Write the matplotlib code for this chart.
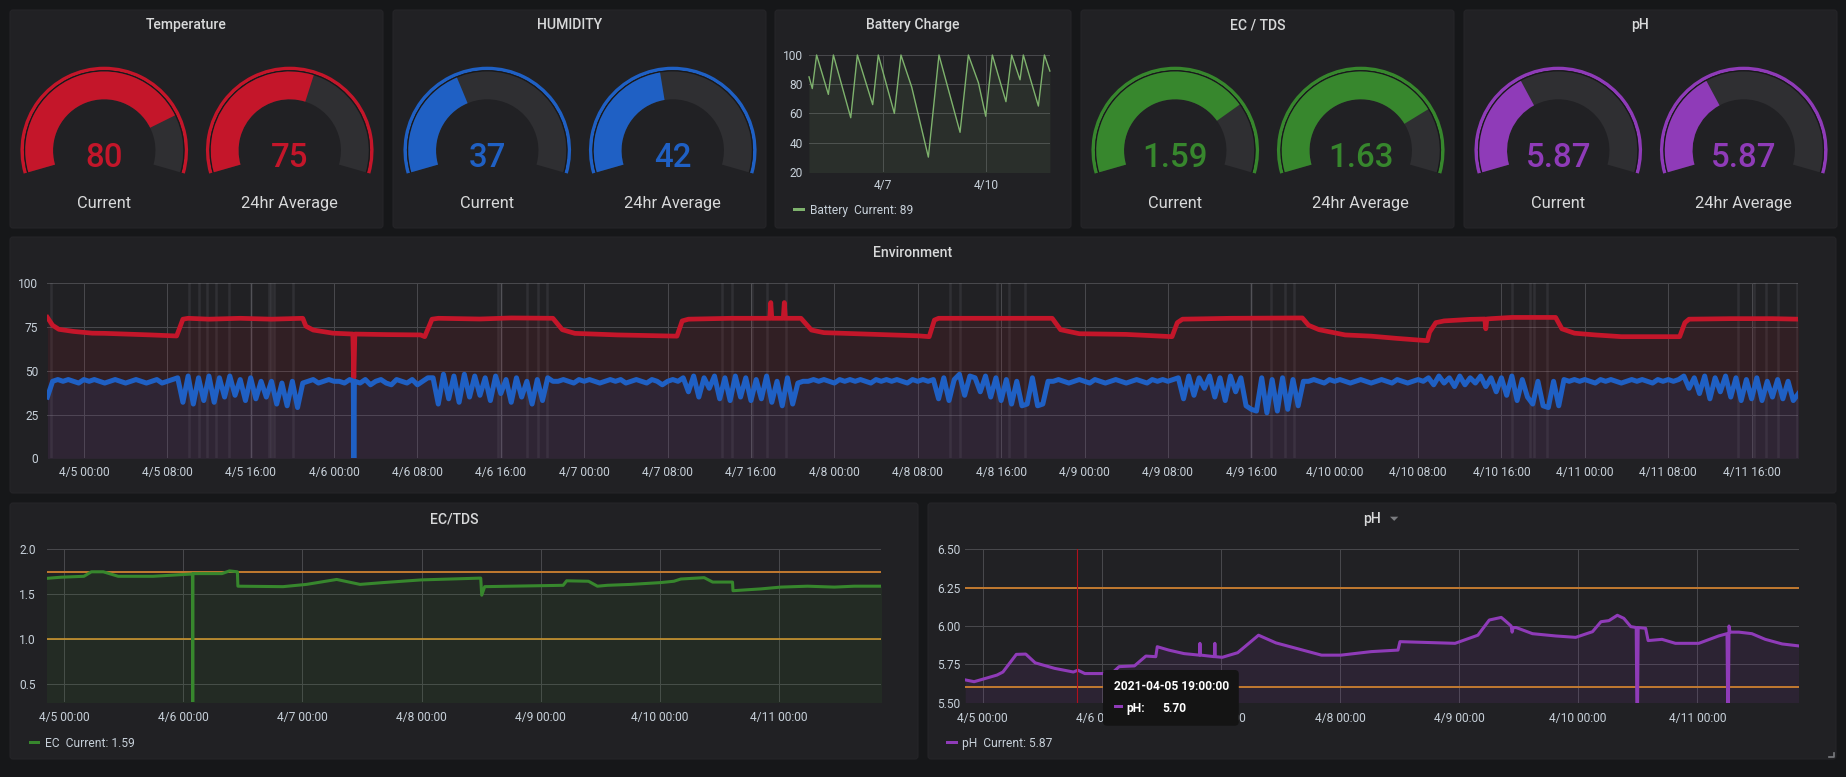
import datetime as dt
import numpy as np
import matplotlib
matplotlib.use("Agg")
import matplotlib.pyplot as plt
import matplotlib.dates as mdates
from matplotlib.patches import Wedge, FancyBboxPatch, Polygon, Rectangle
from matplotlib.ticker import FixedLocator, FuncFormatter

plt.rcParams['font.family'] = ['Roboto', 'DejaVu Sans']

W, H = 1846, 777

# ---------------- colours ----------------
BG = '#161719'; PANEL = '#212124'; GAUGE_BG = '#2f2f32'
GRID = '#48484c'; TICK = '#c7d0d9'; TITLE = '#d8d9da'
RED = '#C4162A'; BLUE = '#1F60C4'; GREEN = '#37872D'; PURPLE = '#8F3BB8'; BATT = '#7EB26D'
ORANGE = '#C27A30'; ORANGE2 = '#C9942E'

# ---------------- data ----------------
gauge_titles = ["Temperature", "HUMIDITY", "EC / TDS", "pH"]
gauge_labels = ["Current", "24hr Average"]
temp_gauge_values = [80, 75]
hum_gauge_values = [37, 42]
ec_gauge_values = [1.59, 1.63]
ph_gauge_values = [5.87, 5.87]
temp_gauge_ranges = [(0, 100), (40, 100)]
hum_gauge_ranges = [(0, 94), (0, 92)]
ec_gauge_ranges = [(0, 2.1), (0, 2.1)]
ph_gauge_ranges = [(0, 16), (0, 16)]

# hours relative to 2021-04-05 00:00
battery_hours = [-3.5, -1.2, 1.8, 10.0, 13.5, 25.6, 30.2, 40.9, 44.8, 56.0, 60.6, 68.1, 79.7,
                 87.1, 101.8, 107.6, 114.6, 119.7, 124.3, 133.8, 137.8, 143.6, 145.9, 156.4, 160.6, 164.4]
battery_values = [85, 77, 100, 73, 100, 57, 100, 66, 100, 60, 100, 78, 30,
                  100, 47, 100, 81, 58, 100, 68, 100, 83, 100, 65, 100, 89]
battery_current = 89

temp_hours = [-3.5, -3.0, -2.4, -1.0, 0.8, 2.0, 6.4, 8.9, 9.5, 10.0, 12.0, 15.0, 18.0, 21.0, 21.3,
              22.0, 23.9, 25.8, 25.9, 26.0, 29.0, 32.3, 32.7, 33.4, 34.0, 38.0, 41.0, 45.0, 45.9,
              47.1, 51.2, 56.9, 57.4, 58.0, 62.0, 65.8, 65.9, 66.0, 67.1, 67.2, 67.3, 68.8, 69.8,
              71.0, 75.0, 80.0, 81.1, 81.6, 82.0, 87.0, 92.9, 93.7, 95.5, 100.0, 104.4, 104.9,
              105.4, 110.0, 116.9, 117.5, 118.5, 121.0, 123.5, 126.0, 128.9, 129.1, 129.7, 130.5,
              133.0, 134.4, 134.5, 134.6, 135.0, 137.0, 141.2, 141.8, 143.0, 145.0, 147.5, 153.1,
              153.6, 154.0, 158.0, 162.0, 164.5]
temp_values = [80.5, 76, 73.7, 72.5, 71.5, 71.4, 70.5, 69.9, 79.5, 80, 79.5, 80, 79.5, 80, 75.5,
               73.3, 71.5, 71, 46, 71, 70.7, 70.5, 69.5, 79.5, 80, 79.6, 80.2, 80, 73.5,
               71.4, 70.5, 69.8, 78.5, 79.5, 80, 80, 89, 80, 80, 89, 80, 80, 73.3,
               71.8, 71, 70, 69.5, 79, 80, 80, 80, 73.5, 71.2, 70.8, 69.5, 77.5,
               79.5, 80, 80.2, 76, 73.5, 70.5, 69.8, 68.5, 67.2, 72, 77.5, 78.5,
               79.4, 79.6, 74, 79.6, 79.8, 80.5, 80.5, 74, 71.5, 70.5, 69.5, 69.5,
               77.5, 79.5, 79.8, 79.8, 79.5]

# humidity readings every 30 min starting 2021-04-04 20:30
hum_start_hour = -3.5
hum_step_hours = 0.5
hum_values = [
    35, 44, 45, 44, 45, 44, 43, 45, 44, 45, 44, 43, 44, 45, 44, 43, 44, 45, 44, 43, 44, 45, 43, 44, 45,
    46, 32, 47, 31, 46, 33, 47, 32, 46, 35, 47, 36, 45, 33, 46, 34, 44, 35, 44, 31, 43, 30, 44, 29, 43,
    44, 45, 43, 44, 45, 44, 44, 43, 45, 44, 43, 45, 42, 44, 45, 43, 42, 45, 44, 43, 45, 42, 44, 46,
    46, 31, 48, 34, 47, 32, 48, 35, 47, 36, 46, 33, 47, 37, 45, 32, 46, 35, 44, 31, 45, 33, 46, 44,
    44, 45, 44, 43, 45, 44, 45, 44, 43, 44, 45, 44, 45, 43, 44, 45, 44, 43, 45, 44, 42, 44, 45, 44,
    46, 38, 47, 35, 46, 40, 47, 34, 46, 33, 47, 35, 46, 33, 45, 34, 47, 32, 44, 30, 46, 31, 43, 44,
    44, 45, 44, 45, 44, 43, 45, 44, 45, 44, 45, 44, 43, 45, 44, 45, 44, 45, 44, 43, 45, 44, 45, 44, 45,
    34, 46, 33, 45, 48, 36, 47, 46, 38, 47, 35, 46, 33, 45, 31, 44, 30, 31, 46, 30, 31, 44,
    44, 45, 44, 43, 44, 45, 44, 43, 45, 44, 43, 44, 45, 44, 43, 44, 45, 44, 43, 45, 44, 45, 44, 45,
    46, 34, 47, 36, 46, 40, 47, 35, 46, 33, 47, 38, 46, 30, 28, 27, 46, 26, 45, 27, 46, 28, 45, 30, 44,
    44, 45, 44, 43, 45, 44, 45, 44, 43, 44, 45, 44, 43, 44, 45, 44, 43, 45, 44, 43, 44, 45, 44,
    46, 42, 47, 43, 46, 41, 47, 42, 46, 43, 47, 41, 46,
    38, 46, 36, 47, 33, 45, 35, 31, 44, 30, 29, 44, 30,
    45, 44, 45, 44, 45, 44, 43, 45, 44, 45, 44, 43, 44, 45, 44, 45, 44, 43, 45, 44, 45, 44, 45,
    47, 40, 46, 37, 47, 34, 46, 38, 47, 35, 46, 33, 45, 34, 46, 33, 44, 35, 45, 34, 44, 33, 37,
]
hum_spike_hours = [25.85, 25.9, 25.95]
hum_spike_values = [44, 0, 44]

env_streak_hours = [-3.15, 10.1, 11.0, 11.8, 12.7, 13.9, 16.0, 17.8, 18.0, 18.2, 20.1, 39.7, 40.0,
                    42.5, 43.6, 44.4, 61.2, 62.2, 64.1, 65.5, 67.4, 83.1, 84.1, 87.6, 88.8, 90.3,
                    112.0, 113.9, 115.2, 116.1, 137.0, 138.7, 139.1, 140.4, 158.7, 160.2, 161.4,
                    162.5, 164.4]

ec_hours = [-3.55, -0.6, 4.0, 5.5, 7.9, 10.9, 17.9, 25.6, 25.85, 25.9, 25.95, 26.4, 31.8, 33.3,
            34.9, 35.0, 44.1, 48.8, 54.9, 59.6, 64.2, 71.9, 83.9, 84.1, 84.7, 100.5, 101.2, 105.6,
            107.4, 109.4, 114.1, 120.1, 122.8, 124.2, 128.9, 130.6, 134.6, 134.7, 140.3, 144.3,
            149.7, 155.1, 159.1, 164.7]
ec_values = [1.677, 1.69, 1.70, 1.75, 1.75, 1.70, 1.70, 1.725, 1.725, 0.0, 1.73, 1.73, 1.73, 1.76,
             1.75, 1.59, 1.585, 1.61, 1.665, 1.61, 1.63, 1.66, 1.68, 1.49, 1.585, 1.60, 1.65, 1.645,
             1.59, 1.60, 1.61, 1.63, 1.645, 1.67, 1.685, 1.636, 1.636, 1.54, 1.56, 1.58,
             1.59, 1.58, 1.59, 1.59]
ec_current = 1.59
ec_thresholds = [1.75, 1.0]

ph_hours = [-3.4, -1.7, 2.9, 4.1, 6.8, 8.7, 10.6, 14.5, 18.3, 19.2, 20.6, 26.0, 27.5, 30.6, 32.9,
            34.9, 35.2, 37.5, 40.6, 43.7, 43.8, 43.9, 44.0, 46.7, 46.8, 46.9, 48.3, 51.4, 55.6,
            59.1, 64.5, 68.3, 72.2, 78.3, 83.7, 84.1, 95.2, 99.8, 102.1, 104.5, 105.1, 106.5,
            106.7, 106.9, 107.5, 110.8, 115.5, 119.5, 122.9, 124.6, 126.2, 127.9, 129.2, 130.6,
            131.7, 131.9, 132.1, 133.6, 134.1, 136.9, 139.6, 144.3, 148.3, 150.0, 150.2, 150.4,
            150.6, 152.4, 155.0, 157.7, 161.1, 164.5]
ph_values = [5.648, 5.637, 5.68, 5.70, 5.815, 5.817, 5.76, 5.724, 5.70, 5.712, 5.69, 5.69, 5.735,
             5.74, 5.804, 5.80, 5.865, 5.843, 5.82, 5.81, 5.887, 5.81, 5.81, 5.80, 5.887, 5.80,
             5.796, 5.826, 5.94, 5.89, 5.843, 5.81, 5.81, 5.833, 5.843, 5.898, 5.887, 5.94, 6.039,
             6.056, 6.04, 6.0, 5.96, 5.99, 5.99, 5.95, 5.935, 5.926, 5.963, 6.028, 6.035, 6.07,
             6.05, 5.996, 5.99, 5.2, 5.99, 5.985, 5.905, 5.913, 5.887, 5.887, 5.935, 5.95, 5.2,
             6.0, 5.96, 5.96, 5.95, 5.913, 5.883, 5.87]
ph_current = 5.87
ph_thresholds = [6.25, 5.6]

tooltip_hour = 19.0
tooltip_time = "2021-04-05 19:00:00"
tooltip_value = 5.70

# ---------------- helpers ----------------
BASE = dt.datetime(2021, 4, 5)
T0 = BASE + dt.timedelta(hours=-3.5)
T1 = BASE + dt.timedelta(hours=164.5)


def to_dates(hours):
    return [BASE + dt.timedelta(hours=float(h)) for h in hours]


def pt(px):
    return px * 0.72


fig = plt.figure(figsize=(W / 100, H / 100), dpi=100, facecolor=BG)
bg = fig.add_axes([0, 0, 1, 1])
bg.set_xlim(0, W); bg.set_ylim(0, H); bg.axis('off')


def px_axes(x0, y0, x1, y1):
    a = fig.add_axes([x0 / W, 1 - y1 / H, (x1 - x0) / W, (y1 - y0) / H])
    a.set_facecolor('none')
    for s in a.spines.values():
        s.set_visible(False)
    a.grid(True, color=GRID, lw=0.75)
    a.set_axisbelow(True)
    a.tick_params(length=0, labelcolor=TICK, labelsize=pt(12))
    return a


def panel(x0, y0, x1, y1):
    bg.add_patch(FancyBboxPatch((x0, H - y1), x1 - x0, y1 - y0,
                                boxstyle='round,pad=0,rounding_size=3',
                                fc=PANEL, ec='#252528', lw=0.8))


def title(x0, x1, ybase, text):
    bg.text((x0 + x1) / 2 - 10, H - ybase, text, ha='center', va='baseline',
            fontsize=pt(14), fontweight='medium', color=TITLE)


def gauge(cx, value, rng, color, text, label):
    cy = H - 150.5
    a0, a1 = -16, 196
    bg.add_patch(Wedge((cx, cy), 83.8, a0, a1, width=3.5, color=color, lw=0))
    bg.add_patch(Wedge((cx, cy), 80.3, a0, a1, width=1.4, color='#18181a', lw=0))
    bg.add_patch(Wedge((cx, cy), 79.0, a0, a1, width=27.8, color=GAUGE_BG, lw=0))
    frac = min(max((value - rng[0]) / (rng[1] - rng[0]), 0), 1)
    bg.add_patch(Wedge((cx, cy), 79.0, a1 - frac * (a1 - a0), a1, width=27.8, color=color, lw=0))
    bg.text(cx, H - 166.7, text, ha='center', va='baseline', fontsize=pt(33),
            fontweight='medium', color=color)
    bg.text(cx, H - 208.3, label, ha='center', va='baseline', fontsize=pt(16.4), color=TITLE)


def legend(x, ybase, color, text):
    bg.add_patch(Rectangle((x, H - ybase + 2.5), 11.5, 3.5, color=color, lw=0))
    bg.text(x + 16.5, H - ybase, text, ha='left', va='baseline', fontsize=pt(12), color=TICK)


def fmt_dt(x, pos):
    d = mdates.num2date(x)
    return f"{d.month}/{d.day} {d:%H:%M}"


def fmt_day(x, pos):
    d = mdates.num2date(x)
    return f"{d.month}/{d.day}"


# ---------------- panels ----------------
top_panels = [(10, 10, 383, 228), (393, 10, 766, 228), (775, 10, 1071, 228),
              (1081, 10, 1454, 228), (1464, 10, 1837, 228)]
env_panel = (10, 237, 1836, 493)
ec_panel = (10, 503, 918, 759)
ph_panel = (928, 503, 1836, 759)
for p in top_panels + [env_panel, ec_panel, ph_panel]:
    panel(*p)

gauge_specs = [
    (top_panels[0], temp_gauge_values, temp_gauge_ranges, RED, "{:.0f}"),
    (top_panels[1], hum_gauge_values, hum_gauge_ranges, BLUE, "{:.0f}"),
    (top_panels[3], ec_gauge_values, ec_gauge_ranges, GREEN, "{:.2f}"),
    (top_panels[4], ph_gauge_values, ph_gauge_ranges, PURPLE, "{:.2f}"),
]
for (p, vals, rngs, col, fmt), ttl in zip(gauge_specs, gauge_titles):
    x0, y0, x1, y1 = p
    w = x1 - x0
    title(x0, x1, 29.3, ttl)
    for k, (v, r, lab) in enumerate(zip(vals, rngs, gauge_labels)):
        cx = x0 + w * (0.25 if k == 0 else 0.75) + (1 if k == 0 else 0)
        gauge(cx, v, r, col, fmt.format(v), lab)

title(top_panels[2][0], top_panels[2][2], 29.3, "Battery Charge")
title(env_panel[0], env_panel[2], 257.3, "Environment")
title(ec_panel[0], ec_panel[2], 523.3, "EC/TDS")
bg.text(1372.5, H - 523.3, "pH", ha='center', va='baseline', fontsize=pt(14),
        fontweight='medium', color=TITLE)
bg.add_patch(Polygon([(1390, H - 516.7), (1398.3, H - 516.7), (1394.2, H - 520.9)],
                     closed=True, color='#7b7c80', lw=0))
bg.plot([1829, 1833.5, 1833.5], [H - 757, H - 757, H - 752.5], color='#7b7c80', lw=1.2)

# ---------------- battery ----------------
axb = px_axes(809, 55, 1050, 171.7)
bd = to_dates(battery_hours)
axb.fill_between(bd, 0, battery_values, color=BATT, alpha=0.1, lw=0)
axb.plot(bd, battery_values, color=BATT, lw=1.0, clip_on=False)
axb.set_xlim(T0, T1); axb.set_ylim(20, 100)
axb.yaxis.set_major_locator(FixedLocator([20, 40, 60, 80, 100]))
axb.xaxis.set_major_locator(FixedLocator(mdates.date2num(to_dates([48, 120]))))
axb.xaxis.set_major_formatter(FuncFormatter(fmt_day))
axb.tick_params(axis='y', pad=4.3)
axb.tick_params(axis='x', pad=5.0)
legend(793, 213.7, BATT, f"Battery  Current: {battery_current}")

# ---------------- environment ----------------
axe = px_axes(47.4, 283.3, 1798.5, 458.3)
for h in env_streak_hours:
    axe.axvline(to_dates([h])[0], color='#9a9aa2', alpha=0.13, lw=1.8, zorder=1)
hum_hours_grid = [hum_start_hour + hum_step_hours * i for i in range(len(hum_values))]
hh = hum_hours_grid + hum_spike_hours
hv = hum_values + hum_spike_values
order = np.argsort(hh, kind='stable')
hh = [hh[i] for i in order]; hv = [hv[i] for i in order]
td = to_dates(temp_hours); hd = to_dates(hh)
axe.fill_between(td, 0, temp_values, color=RED, alpha=0.1, lw=0, zorder=2)
axe.fill_between(hd, 0, hv, color=BLUE, alpha=0.1, lw=0, zorder=2)
axe.plot(td, temp_values, color=RED, lw=3.4, zorder=3)
axe.plot(hd, hv, color=BLUE, lw=3.6, zorder=4)
axe.axvline(T1, color=GRID, lw=0.75)
axe.set_xlim(T0, T1); axe.set_ylim(0, 100)
axe.yaxis.set_major_locator(FixedLocator([0, 25, 50, 75, 100]))
axe.xaxis.set_major_locator(FixedLocator(mdates.date2num(to_dates(range(0, 161, 8)))))
axe.xaxis.set_major_formatter(FuncFormatter(fmt_dt))
axe.tick_params(axis='y', pad=6.5)
axe.tick_params(axis='x', pad=5.2)

# ---------------- EC ----------------
axc = px_axes(46.7, 549.3, 881, 702.3)
cd = to_dates(ec_hours)
axc.fill_between(cd, 0, ec_values, color=GREEN, alpha=0.1, lw=0, zorder=1)
axc.axhline(ec_thresholds[0], color=ORANGE, lw=1.4, zorder=2)
axc.axhline(ec_thresholds[1], color=ORANGE2, lw=1.2, zorder=2)
axc.plot(cd, ec_values, color=GREEN, lw=2.2, zorder=3)
axc.set_xlim(T0, T1); axc.set_ylim(0.3, 2.0)
axc.yaxis.set_major_locator(FixedLocator([0.5, 1.0, 1.5, 2.0]))
axc.yaxis.set_major_formatter(FuncFormatter(lambda v, p: f"{v:.1f}"))
axc.xaxis.set_major_locator(FixedLocator(mdates.date2num(to_dates(range(0, 145, 24)))))
axc.xaxis.set_major_formatter(FuncFormatter(fmt_dt))
axc.tick_params(axis='y', pad=8.0)
axc.tick_params(axis='x', pad=6.6)
legend(28.7, 746.7, GREEN, f"EC  Current: {ec_current:.2f}")

# ---------------- pH ----------------
axp = px_axes(965.2, 549.3, 1799, 702.7)
pd_ = to_dates(ph_hours)
axp.fill_between(pd_, 0, ph_values, color=PURPLE, alpha=0.1, lw=0, zorder=1)
axp.axhline(ph_thresholds[0], color=ORANGE, lw=1.4, zorder=2)
axp.axhline(ph_thresholds[1], color=ORANGE, lw=1.4, zorder=2)
axp.plot(pd_, ph_values, color=PURPLE, lw=2.2, zorder=3)
axp.axvline(to_dates([tooltip_hour])[0], color='#b0101c', lw=0.8, zorder=4)
axp.set_xlim(T0, T1); axp.set_ylim(5.5, 6.5)
axp.yaxis.set_major_locator(FixedLocator([5.5, 5.75, 6.0, 6.25, 6.5]))
axp.yaxis.set_major_formatter(FuncFormatter(lambda v, p: f"{v:.2f}"))
axp.xaxis.set_major_locator(FixedLocator(mdates.date2num(to_dates(range(0, 145, 24)))))
axp.xaxis.set_major_formatter(FuncFormatter(fmt_dt))
axp.tick_params(axis='y', pad=3.6)
axp.tick_params(axis='x', pad=6.6)
legend(946, 746.7, PURPLE, f"pH  Current: {ph_current:.2f}")

# ---------------- tooltip overlay ----------------
ov = fig.add_axes([0, 0, 1, 1], zorder=5)
ov.set_xlim(0, W); ov.set_ylim(0, H); ov.axis('off')
ov.add_patch(FancyBboxPatch((1103, H - 725.7), 135.8, 55.7,
                            boxstyle='round,pad=0,rounding_size=4', fc='#141414', ec='none'))
ov.text(1114.4, H - 690, tooltip_time, ha='left', va='baseline', fontsize=pt(12),
        fontweight='bold', color='#ffffff')
ov.add_patch(Rectangle((1114.4, H - 707.5), 8.4, 3, color=PURPLE, lw=0))
ov.text(1126.7, H - 711.7, "pH:", ha='left', va='baseline', fontsize=pt(12),
        fontweight='bold', color='#ffffff')
ov.text(1161.9, H - 711.7, f"{tooltip_value:.2f}", ha='left', va='baseline', fontsize=pt(12),
        fontweight='bold', color='#ffffff')

fig.savefig("out.png", dpi=100, facecolor=BG)
